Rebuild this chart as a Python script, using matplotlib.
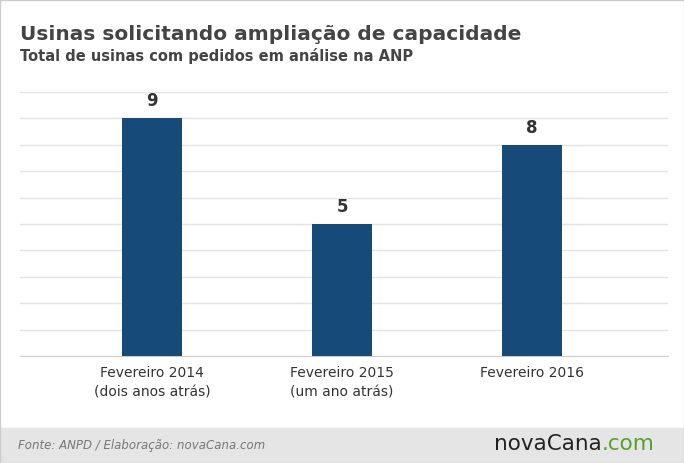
import matplotlib
matplotlib.use("Agg")
import matplotlib.pyplot as plt
from matplotlib.patches import Rectangle

categories = ["Fevereiro 2014\n(dois anos atrás)", "Fevereiro 2015\n(um ano atrás)", "Fevereiro 2016"]
values = [9, 5, 8]

W, H = 684, 463
fig = plt.figure(figsize=(W/100, H/100), dpi=100)
fig.patch.set_facecolor("white")
ax = fig.add_axes([20/W, 1-356/H, 648/W, 264/H])
x = range(len(values))
ax.bar(x, values, width=0.316, color="#164a78", zorder=3)
ax.set_xlim(-0.695, 2.716)
ax.set_ylim(0, 10)
ax.set_yticks(range(0, 11))
ax.yaxis.grid(True, color="#e3e3e3", lw=1)
ax.tick_params(left=False, labelleft=False, bottom=False)
ax.set_xticks(list(x))
ax.set_xticklabels(categories, fontsize=10, color="#333333", linespacing=1.5)
for s in ["left", "right", "top"]:
    ax.spines[s].set_visible(False)
ax.spines["bottom"].set_color("#cccccc")
for i, v in zip(x, values):
    ax.text(i, v + 0.3, str(v), ha="center", va="bottom", fontsize=12, fontweight="bold", color="#333333")

fig.text(20/W, 1-34/H, "Usinas solicitando ampliação de capacidade", fontsize=14.5, fontweight="bold", color="#444444", va="center")
fig.text(20/W, 1-56/H, "Total de usinas com pedidos em análise na ANP", fontsize=10.5, fontweight="bold", color="#444444", va="center")

fig.patches.append(Rectangle((0, 0), 1, 35/H, transform=fig.transFigure, color="#e5e5e5", zorder=0))
fig.text(18/W, 1-445/H, "Fonte: ANPD / Elaboração: novaCana.com", fontsize=8.5, style="italic", color="#777777", va="center")
t1 = fig.text(494/W, 1-444/H, "novaCana", fontsize=15.5, color="#222222", va="center")
fig.canvas.draw()
bb = t1.get_window_extent()
fig.text(bb.x1/W, 1-444/H, ".com", fontsize=15.5, color="#5aa02c", va="center")
fig.patches.append(Rectangle((0, 0), 1, 1, transform=fig.transFigure, fill=False, ec="#cccccc", lw=1))
fig.savefig("out.png", dpi=100)
